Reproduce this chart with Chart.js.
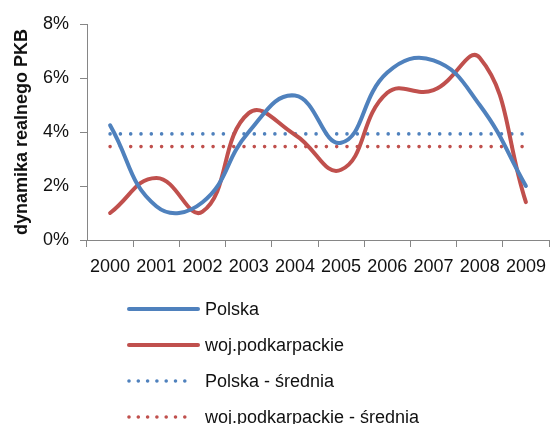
<!DOCTYPE html>
<html>
<head>
<meta charset="utf-8">
<script src="https://cdn.jsdelivr.net/npm/chart.js@4/dist/chart.umd.min.js"></script>
<style>
  html, body { margin: 0; padding: 0; background: #fff; }
  #wrap { width: 550px; height: 424px; }
</style>
</head>
<body>
<div id="wrap"><canvas id="c"></canvas></div>
<script>
// data (percent)
const years = ['2000', '2001', '2002', '2003', '2004', '2005', '2006', '2007', '2008', '2009'];
const polska = [4.25, 1.25, 1.4, 4.0, 5.35, 3.6, 6.2, 6.65, 5.0, 2.0];
const podkarpackie = [1.0, 2.3, 1.05, 4.7, 3.9, 2.6, 5.45, 5.55, 6.75, 1.4];
const polskaAvg = [3.93, 3.93, 3.93, 3.93, 3.93, 3.93, 3.93, 3.93, 3.93, 3.93];
const podkarpackieAvg = [3.46, 3.46, 3.46, 3.46, 3.46, 3.46, 3.46, 3.46, 3.46, 3.46];
const seriesNames = ['Polska', 'woj.podkarpackie', 'Polska - średnia', 'woj.podkarpackie - średnia'];

const BLUE = '#4F81BD', RED = '#C0504D', AXIS = '#868686', TXT = '#111';
const FONT = "'Liberation Sans', Arial, sans-serif";

// vertical legend under the axis, drawn straight on the canvas
const stackedLegend = {
  id: 'stackedLegend',
  afterDraw(chart) {
    const { ctx } = chart;
    ctx.save();
    ctx.font = `18px ${FONT}`; ctx.fillStyle = TXT; ctx.textBaseline = 'middle';
    chart.data.datasets.forEach((ds, i) => {
      const y = 309 + i * 36;
      ctx.beginPath();
      ctx.strokeStyle = ds.borderColor; ctx.lineWidth = ds.borderWidth; ctx.lineCap = 'round';
      ctx.setLineDash(ds.borderDash ? [0, 9.3] : []);
      ctx.moveTo(129, y); ctx.lineTo(ds.borderDash ? 187 : 198, y); ctx.stroke();
      ctx.setLineDash([]);
      ctx.fillText(ds.label, 205, y + 1);
    });
    ctx.restore();
  },
};

const solid = (label, data, color) => ({ label, data, borderColor: color, borderWidth: 4, tension: 0.45, pointRadius: 0, fill: false, borderCapStyle: 'round' });
const dotted = (label, data, color) => ({ label, data, borderColor: color, borderWidth: 3.6, borderDash: [0, 10.3], borderCapStyle: 'round', pointRadius: 0, fill: false, tension: 0 });

new Chart(document.getElementById('c'), {
  type: 'line',
  data: {
    labels: years,
    datasets: [
      solid(seriesNames[0], polska, BLUE),
      solid(seriesNames[1], podkarpackie, RED),
      dotted(seriesNames[2], polskaAvg, BLUE),
      dotted(seriesNames[3], podkarpackieAvg, RED),
    ],
  },
  options: {
    responsive: true, maintainAspectRatio: false, animation: false,
    layout: { padding: { top: 24, right: 1, bottom: 140, left: 0 } },
    plugins: { legend: { display: false }, tooltip: { enabled: false } },
    scales: {
      x: {
        offset: true,
        // fixed height; labels sit inside their slots so no extra side padding
        afterFit: (s) => { s.height = 44; s.paddingLeft = 0; s.paddingRight = 0; },
        grid: { display: true, drawOnChartArea: false, offset: true, tickLength: 7, color: AXIS },
        border: { color: AXIS, width: 1 },
        ticks: { color: TXT, font: { family: FONT, size: 18 }, padding: 9, maxRotation: 0, autoSkip: false },
      },
      y: {
        min: 0, max: 8,
        afterFit: (s) => { s.width = 87; },
        grid: { display: true, drawOnChartArea: false, tickLength: 7, color: AXIS },
        border: { color: AXIS, width: 1 },
        ticks: { stepSize: 2, color: TXT, font: { family: FONT, size: 18 }, padding: 11, callback: (v) => v + '%' },
        title: { display: true, text: 'dynamika realnego PKB', color: TXT, font: { family: FONT, size: 18, weight: 'bold' }, padding: { top: 11, bottom: 0 } },
      },
    },
  },
  plugins: [stackedLegend],
});
</script>
</body>
</html>
